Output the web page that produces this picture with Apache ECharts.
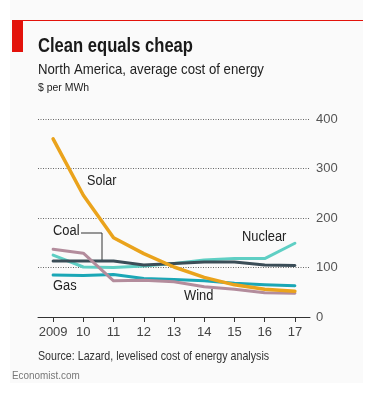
<!DOCTYPE html>
<html><head><meta charset="utf-8">
<script src="https://cdn.jsdelivr.net/npm/echarts@6/dist/echarts.min.js"></script>
<style>html,body{margin:0;padding:0;background:#fff}#c{width:378px;height:405px}</style>
</head><body><div id="c"></div>
<script>
const years = ['2009','10','11','12','13','14','15','16','17'];
const yTicks = [0,100,200,300,400];
const solar   = [360, 246, 160, 128, 101, 80, 65, 56, 52];
const coal    = [113, 113, 113, 105, 108, 111, 111, 105, 104];
const nuclear = [125, 101, 100, 103, 108, 115, 118, 118, 149];
const gas     = [85, 84, 86, 78, 76, 73, 68, 65, 63];
const wind    = [137, 129, 73, 74, 71, 61, 56, 49, 48];

const FONT = '"Liberation Sans",Arial,sans-serif';
const chart = echarts.init(document.getElementById('c'));
function line(name, data, color, w, z){
  return {name, type:'line', data, symbol:'none', z,
    lineStyle:{color, width:w, cap:'round', join:'round'}, itemStyle:{color}};
}
function txt(x, y, text, size, color, sx, bold){
  return {type:'text', x, y, scaleX:sx, scaleY:1,
    style:{text, font:(bold?'bold ':'')+size+'px '+FONT, fill:color, align:'left', verticalAlign:'top'}};
}
chart.setOption({
  backgroundColor:'#ffffff',
  animation:false,
  textStyle:{fontFamily:FONT},
  grid:{left:38, right:68, top:119, bottom:88},
  xAxis:{type:'category', data:years, boundaryGap:true,
    axisLine:{lineStyle:{color:'#333', width:1}},
    axisTick:{show:true, alignWithLabel:true, length:5, lineStyle:{color:'#333'}},
    axisLabel:{color:'#444', fontSize:13, margin:9, interval:0, fontFamily:FONT}},
  yAxis:{type:'value', position:'right', min:0, max:400, interval:100,
    axisLine:{show:false}, axisTick:{show:false},
    axisLabel:{color:'#555', fontSize:13, margin:6, fontFamily:FONT},
    splitLine:{show:true, lineStyle:{color:'#666', type:[1,1.5], width:1}}},
  series:[
    line('Nuclear', nuclear, '#5fcfc4', 3, 2),
    line('Coal', coal, '#3b4d57', 3, 3),
    line('Gas', gas, '#1aa7b6', 3, 4),
    line('Wind', wind, '#b38c9c', 3, 5),
    line('Solar', solar, '#eaa31c', 3.5, 6)
  ],
  graphic:[
    {type:'rect', z:-10, shape:{x:10,y:0,width:353,height:383}, style:{fill:'#fafafa'}},
    {type:'rect', shape:{x:12,y:20,width:351,height:1}, style:{fill:'#e3120b'}},
    {type:'rect', shape:{x:12,y:20,width:11,height:32}, style:{fill:'#e3120b'}},
    txt(38, 36, 'Clean equals cheap', 20, '#1a1a1a', 0.83, true),
    txt(38, 62, 'North America, average cost of energy', 15, '#222', 0.88),
    txt(38, 82, '$ per MWh', 11, '#222', 0.95),
    txt(87, 174, 'Solar', 14, '#222', 0.9),
    txt(53, 224, 'Coal', 14, '#222', 0.92),
    {type:'polyline', shape:{points:[[81,233],[102,233],[102,262]]}, style:{stroke:'#333', lineWidth:1, fill:null}},
    txt(242, 230, 'Nuclear', 14, '#222', 0.92),
    txt(53, 279, 'Gas', 14, '#222', 0.92),
    txt(184, 289, 'Wind', 14, '#222', 0.92),
    txt(38, 350, 'Source: Lazard, levelised cost of energy analysis', 13, '#333', 0.82),
    txt(12, 370, 'Economist.com', 11, '#777', 0.9)
  ]
});
</script></body></html>
